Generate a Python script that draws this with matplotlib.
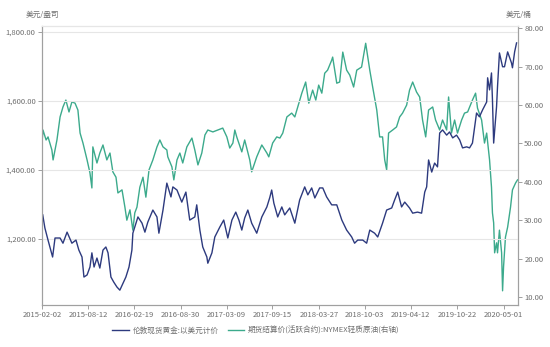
import matplotlib
matplotlib.use("Agg")
import matplotlib.pyplot as plt
import pandas as pd

plt.rcParams['font.family'] = ['Noto Sans CJK SC', 'DejaVu Sans']

start = pd.Timestamp('2015-02-02')

# Gold: days since 2015-02-02, USD/oz (left axis)
gold_days = [3, 12, 25, 44, 54, 75, 87, 104, 124, 141, 153, 166, 174, 187, 199, 207, 216, 228, 240,
             253, 265, 274, 286, 298, 311, 323, 336, 348, 361, 373, 377, 398, 415, 427, 439, 460, 477,
             485, 502, 518, 535, 543, 560, 580, 597, 613, 634, 642, 655, 667, 684, 688, 705, 717, 738,
             754, 771, 788, 804, 817, 829, 841, 854, 870, 891, 912, 933, 945, 953, 962, 978, 995, 1007,
             1028, 1049, 1069, 1090, 1103, 1119, 1132, 1152, 1165, 1181, 1202, 1223, 1244, 1264, 1285,
             1297, 1310, 1331, 1347, 1360, 1380, 1393, 1413, 1430, 1451, 1463, 1476, 1492, 1505, 1525,
             1538, 1558, 1575, 1588, 1596, 1604, 1617, 1629, 1641, 1650, 1662, 1679, 1691, 1704, 1720,
             1733, 1745, 1762, 1774, 1786, 1803, 1815, 1828, 1845, 1849, 1857, 1865, 1869, 1874, 1886,
             1890, 1898, 1911, 1919, 1932, 1948, 1952, 1961, 1969]
gold_vals = [1270, 1232, 1197, 1148, 1203, 1203, 1188, 1220, 1188, 1197, 1168, 1148, 1090, 1096, 1119,
             1160, 1119, 1145, 1116, 1168, 1177, 1160, 1090, 1075, 1061, 1052, 1072, 1090, 1119, 1168,
             1217, 1264, 1246, 1220, 1249, 1284, 1264, 1217, 1284, 1362, 1322, 1351, 1342, 1307, 1336,
             1255, 1264, 1299, 1226, 1177, 1148, 1130, 1160, 1206, 1235, 1255, 1203, 1255, 1278, 1255,
             1226, 1261, 1284, 1246, 1217, 1264, 1293, 1320, 1342, 1304, 1264, 1293, 1270, 1290, 1246,
             1313, 1351, 1328, 1348, 1319, 1348, 1348, 1322, 1299, 1299, 1255, 1226, 1206, 1188, 1197,
             1197, 1188, 1226, 1217, 1206, 1246, 1284, 1290, 1313, 1336, 1293, 1307, 1290, 1275, 1278,
             1275, 1336, 1351, 1429, 1394, 1420, 1409, 1507, 1516, 1501, 1510, 1493, 1501, 1487, 1464,
             1467, 1464, 1478, 1565, 1554, 1574, 1597, 1667, 1632, 1681, 1603, 1478, 1583, 1641, 1739,
             1699, 1699, 1742, 1710, 1696, 1742, 1768]

# WTI crude oil: days since 2015-02-02, USD/bbl (right axis)
oil_days = [0, 4, 17, 25, 41, 46, 62, 75, 87, 99, 112, 124, 137, 149, 158, 170, 187, 199, 207, 211,
            228, 240, 253, 269, 282, 294, 307, 315, 332, 344, 352, 365, 377, 385, 394, 406, 419, 431,
            444, 460, 477, 489, 502, 518, 522, 539, 547, 560, 572, 584, 601, 622, 634, 647, 663, 676,
            688, 709, 730, 750, 767, 779, 792, 800, 808, 829, 841, 862, 870, 891, 912, 933, 941, 957,
            974, 987, 999, 1016, 1036, 1049, 1061, 1078, 1094, 1107, 1123, 1136, 1148, 1161, 1173, 1185,
            1202, 1206, 1223, 1235, 1248, 1264, 1277, 1293, 1306, 1326, 1343, 1360, 1372, 1389, 1401,
            1413, 1422, 1430, 1438, 1455, 1471, 1484, 1496, 1513, 1525, 1538, 1554, 1567, 1579, 1592,
            1604, 1621, 1633, 1650, 1662, 1679, 1687, 1699, 1712, 1724, 1741, 1753, 1766, 1786, 1799,
            1807, 1824, 1836, 1845, 1857, 1865, 1869, 1874, 1878, 1886, 1890, 1898, 1907, 1911, 1915,
            1923, 1932, 1944, 1952, 1965, 1973]
oil_vals = [50.1, 53.5, 50.9, 51.7, 48.3, 45.7, 50.9, 56.9, 59.5, 61.3, 58.2, 60.8, 60.5, 58.7, 52.7,
            50.1, 45.7, 42.3, 38.4, 49.1, 44.9, 47.5, 49.6, 45.7, 47.5, 42.6, 41.2, 37.1, 37.9, 33.4,
            30.0, 32.7, 27.4, 31.9, 33.4, 38.6, 41.2, 36.0, 43.1, 45.7, 49.1, 50.9, 49.1, 48.3, 46.5,
            43.9, 40.5, 45.7, 47.5, 44.9, 49.1, 51.4, 48.3, 44.4, 47.5, 52.2, 53.5, 53.0, 53.5, 54.0,
            51.7, 48.8, 50.1, 53.5, 51.7, 47.8, 50.9, 45.7, 42.6, 46.5, 49.6, 47.5, 46.5, 50.1, 51.7,
            51.4, 52.7, 56.9, 57.9, 56.9, 59.5, 63.1, 66.0, 60.5, 63.9, 61.3, 65.2, 63.1, 68.3, 69.1,
            71.7, 72.5, 65.7, 66.0, 73.8, 69.1, 67.8, 64.7, 69.1, 69.9, 76.1, 69.1, 64.7, 58.7, 51.7,
            51.7, 45.7, 43.1, 52.7, 53.5, 54.3, 56.9, 57.9, 60.0, 63.9, 66.0, 63.4, 62.1, 56.1, 51.7,
            58.7, 59.5, 56.1, 53.5, 56.1, 53.5, 62.1, 52.7, 56.1, 52.7, 56.1, 57.9, 58.2, 61.3, 63.1,
            59.2, 56.1, 50.1, 52.7, 45.7, 38.6, 31.9, 29.3, 21.5, 24.1, 21.5, 27.4, 21.5, 11.6, 17.8,
            25.6, 28.2, 33.4, 37.9, 39.7, 40.5]

tick_dates = ['2015-02-02', '2015-08-12', '2016-02-19', '2016-08-30', '2017-03-09', '2017-09-15',
              '2018-03-27', '2018-10-03', '2019-04-12', '2019-10-22', '2020-05-01']
left_ticks = [1200, 1400, 1600, 1800]
right_ticks = [10, 20, 30, 40, 50, 60, 70, 80]

gold_label = '伦敦现货黄金:以美元计价'
oil_label = '期货结算价(活跃合约):NYMEX轻质原油(右轴)'

gold_color = '#2d3a7e'
oil_color = '#3caa8c'
txt_color = '#6e6e6e'
spine_color = '#a0a0a0'

gold_x = start + pd.to_timedelta(gold_days, unit='D')
oil_x = start + pd.to_timedelta(oil_days, unit='D')
ticks_x = pd.to_datetime(tick_dates)

fig = plt.figure(figsize=(5.5, 3.47), dpi=100)
ax = fig.add_axes([42/550, 1-305/347, (518-42)/550, (305-26)/347])
ax2 = ax.twinx()

ax.set_zorder(ax2.get_zorder() + 1)
ax.patch.set_visible(False)

l1, = ax.plot(gold_x, gold_vals, color=gold_color, lw=1.0, label=gold_label)
l2, = ax2.plot(oil_x, oil_vals, color=oil_color, lw=1.0, label=oil_label)

ax.set_ylim(1009, 1817)
ax2.set_ylim(7.9, 80.6)
ax.set_xlim(ticks_x[0], start + pd.Timedelta(days=1975))

ax.set_yticks(left_ticks)
ax.set_yticklabels([f'{v:,.2f}' for v in left_ticks])
ax2.set_yticks(right_ticks)
ax2.set_yticklabels([f'{v:.2f}' for v in right_ticks])
ax.set_xticks(ticks_x)
ax.set_xticklabels(tick_dates)

ax.grid(axis='y', color='#e6e6e6', lw=0.8)
ax.set_axisbelow(True)

for a in (ax, ax2):
    for s in a.spines.values():
        s.set_color(spine_color)
        s.set_linewidth(0.8)
    a.spines['top'].set_color('#e6e6e6')
    a.tick_params(labelsize=5.5, colors=spine_color, labelcolor=txt_color, length=3, width=0.7, pad=1.5)

fig.text(42/550, 1-15/347, '美元/盎司', fontsize=5.5, color=txt_color, ha='center', va='center')
fig.text(519/550, 1-15/347, '美元/桶', fontsize=5.5, color=txt_color, ha='center', va='center')

fig.legend(handles=[l1, l2], loc='center', bbox_to_anchor=(0.465, 1-331/347), ncol=2,
           frameon=False, fontsize=5.5, handlelength=2.2, columnspacing=1.2, handletextpad=0.5,
           labelcolor=txt_color)

fig.savefig('out.png', dpi=100, facecolor='white')
